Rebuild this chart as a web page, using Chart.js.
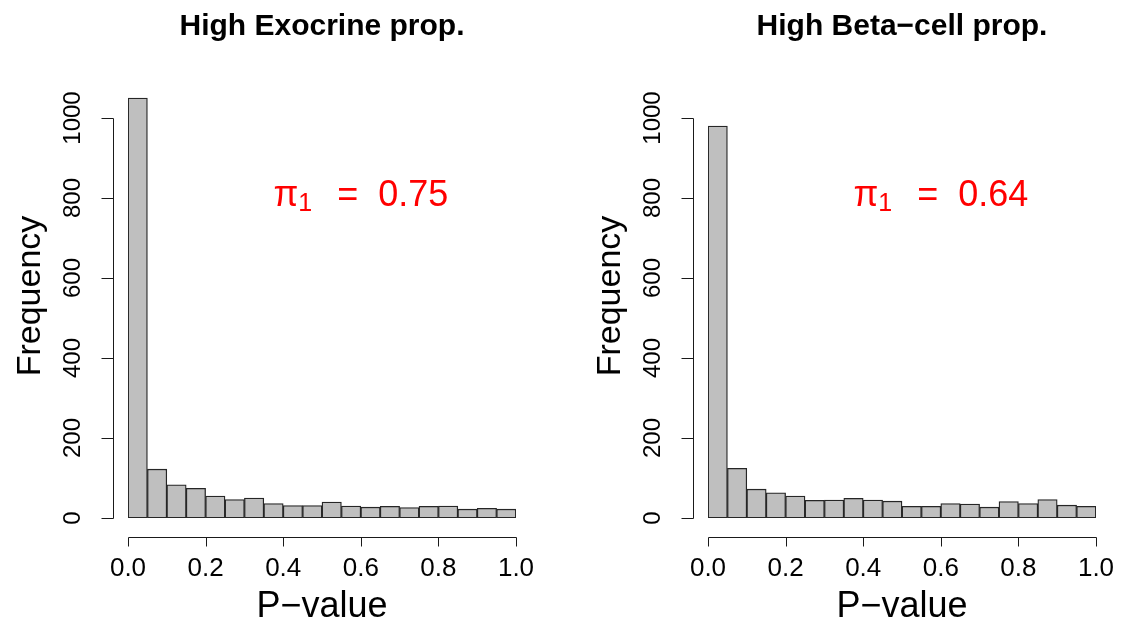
<!DOCTYPE html>
<html>
<head>
<meta charset="UTF-8">
<title>P-value histograms</title>
<script src="https://cdn.jsdelivr.net/npm/chart.js@4.4.0/dist/chart.umd.min.js"></script>
<style>
  html, body { margin: 0; padding: 0; background: #fff; overflow: hidden; }
  #wrap { position: relative; width: 1121px; height: 624px; }
  canvas { position: absolute; top: 0; }
</style>
</head>
<body>
<div id="wrap">
  <canvas id="exoChart" width="560" height="624" style="left:0px"></canvas>
  <canvas id="betaChart" width="541" height="624" style="left:580px"></canvas>
</div>
<script>
// histogram bins (width 0.05) and counts
const binMids = [0.025, 0.075, 0.125, 0.175, 0.225, 0.275, 0.325, 0.375, 0.425, 0.475,
                 0.525, 0.575, 0.625, 0.675, 0.725, 0.775, 0.825, 0.875, 0.925, 0.975];
const exoCounts  = [1050, 122, 83, 74, 55, 46, 50, 36, 31, 31, 40, 30, 27, 29, 26, 29, 30, 22, 24, 22];
const betaCounts = [980, 124, 72, 63, 55, 44, 45, 49, 45, 42, 29, 29, 36, 35, 27, 41, 36, 46, 32, 29];
const xTicks = [0, 0.2, 0.4, 0.6, 0.8, 1.0];
const yTicks = [0, 200, 400, 600, 800, 1000];
const xLabels = ["0.0", "0.2", "0.4", "0.6", "0.8", "1.0"];
const yLabels = ["0", "200", "400", "600", "800", "1000"];

const FONT = '"Liberation Sans", Arial, Helvetica, sans-serif';

// draws R-style detached axes, titles and the pi1 note
const rAxes = {
  id: 'rAxes',
  afterDraw(chart, args, opts) {
    const {ctx, scales: {x, y}} = chart;
    ctx.save();
    ctx.strokeStyle = '#1a1a1a';
    ctx.fillStyle = '#000';
    ctx.lineWidth = 1;

    // y axis
    const ax = Math.round(x.left - 15) + 0.5;
    const yb = Math.round(y.getPixelForValue(yTicks[0])) + 0.5;
    const yt = Math.round(y.getPixelForValue(yTicks[yTicks.length - 1])) + 0.5;
    ctx.beginPath();
    ctx.moveTo(ax, yb); ctx.lineTo(ax, yt);
    yTicks.forEach(v => {
      const py = Math.round(y.getPixelForValue(v)) + 0.5;
      ctx.moveTo(ax, py); ctx.lineTo(ax - 12, py);
    });
    ctx.stroke();
    ctx.font = '24px ' + FONT;
    ctx.textAlign = 'center';
    ctx.textBaseline = 'middle';
    yTicks.forEach((v, i) => {
      ctx.save();
      ctx.translate(ax - 40, y.getPixelForValue(v));
      ctx.rotate(-Math.PI / 2);
      ctx.fillText(yLabels[i], 0, 0);
      ctx.restore();
    });

    // x axis
    const ay = Math.round(y.bottom + 19) + 0.5;
    const xl = Math.round(x.getPixelForValue(xTicks[0])) + 0.5;
    const xr = Math.round(x.getPixelForValue(xTicks[xTicks.length - 1])) + 0.5;
    ctx.beginPath();
    ctx.moveTo(xl, ay); ctx.lineTo(xr, ay);
    xTicks.forEach(v => {
      const px = Math.round(x.getPixelForValue(v)) + 0.5;
      ctx.moveTo(px, ay); ctx.lineTo(px, ay + 9);
    });
    ctx.stroke();
    ctx.font = '26px ' + FONT;
    xTicks.forEach((v, i) => {
      ctx.fillText(xLabels[i], x.getPixelForValue(v), ay + 31);
    });

    // axis titles
    const cx = (x.left + x.right) / 2;
    ctx.font = '36px ' + FONT;
    ctx.textBaseline = 'alphabetic';
    ctx.fillText('P\u2212value', cx, ay + 79);
    ctx.font = '34px ' + FONT;
    ctx.save();
    ctx.translate(40, (y.top + y.bottom) / 2 - 2);
    ctx.rotate(-Math.PI / 2);
    ctx.fillText('Frequency', 0, 0);
    ctx.restore();

    // main title
    ctx.font = 'bold 30px ' + FONT;
    ctx.textBaseline = 'middle';
    ctx.fillText(opts.title, cx, 27);

    // pi1 annotation
    ctx.fillStyle = '#ff0000';
    ctx.textAlign = 'left';
    ctx.textBaseline = 'middle';
    const big = '36px ' + FONT, small = '25px ' + FONT;
    const rest = '  =  ' + opts.pi;
    const gap = 5;
    ctx.font = big;
    const wPi = ctx.measureText('\u03c0').width;
    const wRest = ctx.measureText(rest).width;
    ctx.font = small;
    const wSub = ctx.measureText('1').width;
    const total = wPi + wSub + gap + wRest;
    let tx = x.getPixelForValue(0.6) - total / 2;
    const ty = y.getPixelForValue(805);
    ctx.font = big;
    ctx.fillText('\u03c0', tx, ty);
    tx += wPi;
    ctx.font = small;
    ctx.fillText('1', tx, ty + 8);
    tx += wSub + gap;
    ctx.font = big;
    ctx.fillText(rest, tx, ty);
    ctx.restore();
  }
};

function makeHist(id, counts, title, pi, rightPad) {
  return new Chart(document.getElementById(id), {
    type: 'bar',
    data: {
      datasets: [{
        data: binMids.map((m, i) => ({x: m, y: counts[i]})),
        backgroundColor: '#bfbfbf',
        borderColor: '#262626',
        borderWidth: 1.3,
        borderSkipped: false,
        barPercentage: 1,
        categoryPercentage: 1
      }]
    },
    options: {
      responsive: false,
      animation: false,
      layout: {padding: {left: 128, right: rightPad, top: 78, bottom: 106}},
      scales: {
        x: {type: 'linear', min: 0, max: 1, offset: false, display: false, ticks: {stepSize: 0.2}},
        y: {min: 0, max: 1100, display: false}
      },
      plugins: {
        legend: {display: false},
        tooltip: {enabled: false},
        rAxes: {title: title, pi: pi}
      }
    },
    plugins: [rAxes]
  });
}

makeHist('exoChart', exoCounts, 'High Exocrine prop.', '0.75', 44);
makeHist('betaChart', betaCounts, 'High Beta\u2212cell prop.', '0.64', 25);
</script>
</body>
</html>
